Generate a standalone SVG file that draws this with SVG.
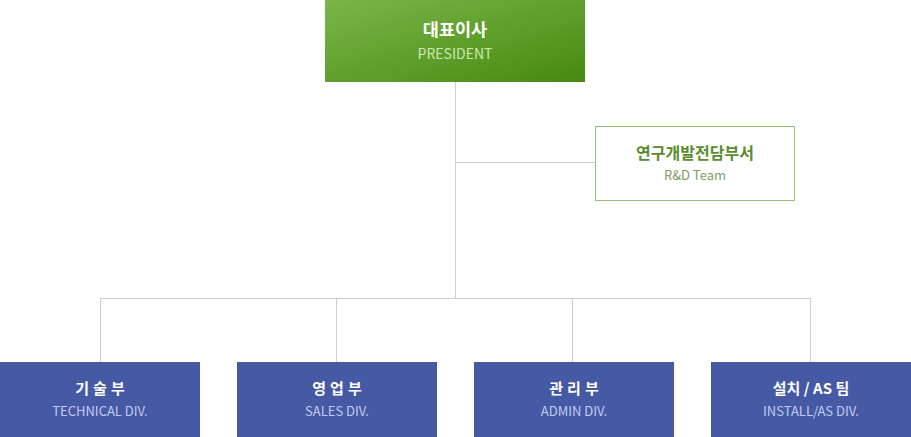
<svg xmlns="http://www.w3.org/2000/svg" width="911" height="437" viewBox="0 0 911 437">
<defs>
<linearGradient id="gp" x1="0" y1="0" x2="1" y2="1">
<stop offset="0" stop-color="#7bb54a"/>
<stop offset="1" stop-color="#468a10"/>
</linearGradient>
<style>
.ln{stroke:#cccccc;stroke-width:1;fill:none}
.t{font-family:"Noto Sans CJK KR","Noto Sans",sans-serif;text-anchor:middle}
.kt{font-size:15px;font-weight:bold;fill:#ffffff}
.et{font-size:13px;fill:#c3ccef}
.div{fill:#4559a5}
</style>
</defs>
<rect width="911" height="437" fill="#ffffff"/>
<g id="connectors">
<path class="ln" d="M455.5 82V298.5M455 162.5H595M100.5 298.5H810.5M100.5 298V362M336.5 298V362M572.5 298V362M810.5 298V362"/>
</g>
<g id="president">
<rect x="325" y="0" width="260" height="82" fill="url(#gp)"/>
<text class="t" x="455" y="36" font-size="17.5" font-weight="bold" fill="#ffffff">대표이사</text>
<text class="t" x="455" y="59" font-size="14" fill="#cde8b0">PRESIDENT</text>
</g>
<g id="rnd">
<rect x="595.5" y="126.5" width="199" height="74" fill="#ffffff" stroke="#94c36d"/>
<text class="t" x="695" y="159" font-size="16" font-weight="bold" fill="#5a8c2e">연구개발전담부서</text>
<text class="t" x="695" y="180" font-size="13" fill="#7f9c66">R&amp;D Team</text>
</g>
<g id="tech">
<rect class="div" x="0" y="362" width="200" height="75"/>
<text class="t kt" x="102" y="394" letter-spacing="4">기술부</text>
<text class="t et" x="100" y="416">TECHNICAL DIV.</text>
</g>
<g id="sales">
<rect class="div" x="237" y="362" width="200" height="75"/>
<text class="t kt" x="339" y="394" letter-spacing="4">영업부</text>
<text class="t et" x="337" y="416">SALES DIV.</text>
</g>
<g id="admin">
<rect class="div" x="474" y="362" width="200" height="75"/>
<text class="t kt" x="576" y="394" letter-spacing="4">관리부</text>
<text class="t et" x="574" y="416">ADMIN DIV.</text>
</g>
<g id="install">
<rect class="div" x="711" y="362" width="200" height="75"/>
<text class="t kt" x="811" y="394">설치 / AS 팀</text>
<text class="t et" x="811" y="416">INSTALL/AS DIV.</text>
</g>
</svg>
